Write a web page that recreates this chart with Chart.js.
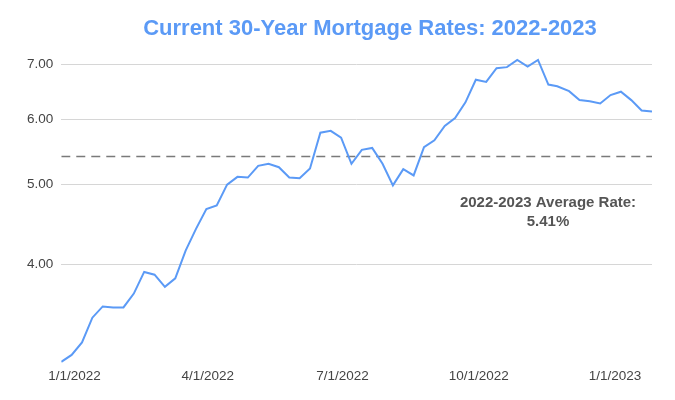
<!DOCTYPE html>
<html>
<head>
    <meta charset="utf-8">
    <script src="https://cdn.jsdelivr.net/npm/chart.js"></script>
    <title>Current 30-Year Mortgage Rates: 2022-2023</title>
    <style>
        html, body { margin: 0; padding: 0; background: #fff; }
        #wrap { width: 675px; height: 400px; position: relative; }
    </style>
</head>
<body>
<div id="wrap"><canvas id="myChart" width="675" height="400" style="width:675px;height:400px"></canvas></div>
<script>
    // weekly 30-year fixed rate (%), one value per week
    var weeks = [
        '2021-12-23', '2021-12-30', '2022-01-06', '2022-01-13', '2022-01-20', '2022-01-27',
        '2022-02-03', '2022-02-10', '2022-02-17', '2022-02-24', '2022-03-03', '2022-03-10',
        '2022-03-17', '2022-03-24', '2022-03-31', '2022-04-07', '2022-04-14', '2022-04-21',
        '2022-04-28', '2022-05-05', '2022-05-12', '2022-05-19', '2022-05-26', '2022-06-02',
        '2022-06-09', '2022-06-16', '2022-06-23', '2022-06-30', '2022-07-07', '2022-07-14',
        '2022-07-21', '2022-07-28', '2022-08-04', '2022-08-11', '2022-08-18', '2022-08-25',
        '2022-09-01', '2022-09-08', '2022-09-15', '2022-09-22', '2022-09-29', '2022-10-06',
        '2022-10-13', '2022-10-20', '2022-10-27', '2022-11-03', '2022-11-10', '2022-11-17',
        '2022-11-23', '2022-12-01', '2022-12-08', '2022-12-15', '2022-12-22', '2022-12-29',
        '2023-01-05', '2023-01-12', '2023-01-19', '2023-01-26'
    ];
    var rates = [
        3.05, 3.11, 3.22, 3.45, 3.56, 3.55,
        3.55, 3.69, 3.92, 3.89, 3.76, 3.85,
        4.16, 4.42, 4.67, 4.72, 5.00, 5.11,
        5.10, 5.27, 5.30, 5.25, 5.10, 5.09,
        5.23, 5.78, 5.81, 5.70, 5.30, 5.51,
        5.54, 5.30, 4.99, 5.22, 5.13, 5.55,
        5.66, 5.89, 6.02, 6.29, 6.70, 6.66,
        6.92, 6.94, 7.08, 6.95, 7.08, 6.61,
        6.58, 6.49, 6.33, 6.31, 6.27, 6.42,
        6.48, 6.33, 6.15, 6.13
    ];
    var averageRate = 5.41;
    var tickDates = ['2022-01-01', '2022-04-01', '2022-07-01', '2022-10-01', '2023-01-01'];
    var tickLabels = ['1/1/2022', '4/1/2022', '7/1/2022', '10/1/2022', '1/1/2023'];
    var yTicks = [4, 5, 6, 7];
    var titleText = 'Current 30-Year Mortgage Rates: 2022-2023';
    var noteText = '2022-2023 Average Rate:';

    var DAY = 86400000;
    var origin = Date.parse('2022-01-01');
    function dayOf(s) { return Math.round((Date.parse(s) - origin) / DAY); }

    var points = weeks.map(function (w, i) { return { x: dayOf(w), y: rates[i] }; });
    var tickDays = tickDates.map(dayOf);
    var xMin = dayOf(weeks[0]);
    var xMax = dayOf(weeks[weeks.length - 1]);

    var blue = '#5b9af6';
    var textGray = '#444444';
    var fontFamily = "'Liberation Sans', Arial, sans-serif";

    // title (sits a bit right of centre, like the original) and the average note
    var textPlugin = {
        id: 'texts',
        afterDatasetsDraw: function (chart) {
            var c = chart.ctx;
            var a = chart.chartArea;
            c.save();
            c.textAlign = 'center';
            c.textBaseline = 'middle';

            c.fillStyle = blue;
            c.font = 'bold 22px ' + fontFamily;
            c.fillText(titleText, 370, 29);

            c.fillStyle = '#555555';
            c.font = 'bold 15px ' + fontFamily;
            var cx = a.right - 104;
            c.fillText(noteText, cx, 203);
            c.fillText(averageRate.toFixed(2) + '%', cx, 222);
            c.restore();
        }
    };

    var ctx = document.getElementById('myChart').getContext('2d');
    var myChart = new Chart(ctx, {
        type: 'line',
        data: {
            datasets: [{
                label: 'Rate',
                data: points,
                borderColor: blue,
                borderWidth: 2,
                pointRadius: 0,
                tension: 0,
                fill: false
            }, {
                label: 'Average',
                data: [{ x: xMin, y: averageRate }, { x: xMax, y: averageRate }],
                borderColor: '#7a7a7a',
                borderWidth: 1.5,
                borderDash: [9, 6],
                pointRadius: 0,
                fill: false
            }]
        },
        options: {
            responsive: false,
            animation: false,
            devicePixelRatio: 1,
            layout: { padding: { left: 19, right: 23, top: 49, bottom: 16 } },
            plugins: {
                legend: { display: false },
                tooltip: { enabled: false },
                title: { display: false }
            },
            scales: {
                x: {
                    type: 'linear',
                    min: xMin,
                    max: xMax,
                    grid: { display: false, drawTicks: false },
                    border: { display: false },
                    afterBuildTicks: function (axis) {
                        axis.ticks = tickDays.map(function (d) { return { value: d }; });
                    },
                    ticks: {
                        autoSkip: false,
                        maxRotation: 0,
                        color: textGray,
                        padding: 0,
                        font: { family: fontFamily, size: 13.5 },
                        callback: function (v) {
                            var i = tickDays.indexOf(v);
                            return i >= 0 ? tickLabels[i] : '';
                        }
                    }
                },
                y: {
                    type: 'logarithmic',
                    min: 3.0,
                    max: 7.3,
                    border: { display: false },
                    grid: { color: '#d6d6d6', lineWidth: 1, drawTicks: false },
                    afterBuildTicks: function (axis) {
                        axis.ticks = yTicks.map(function (v) { return { value: v }; });
                    },
                    ticks: {
                        color: textGray,
                        padding: 8,
                        font: { family: fontFamily, size: 13.5 },
                        callback: function (v) { return Number(v).toFixed(2); }
                    }
                }
            }
        },
        plugins: [textPlugin]
    });
</script>
</body>
</html>
